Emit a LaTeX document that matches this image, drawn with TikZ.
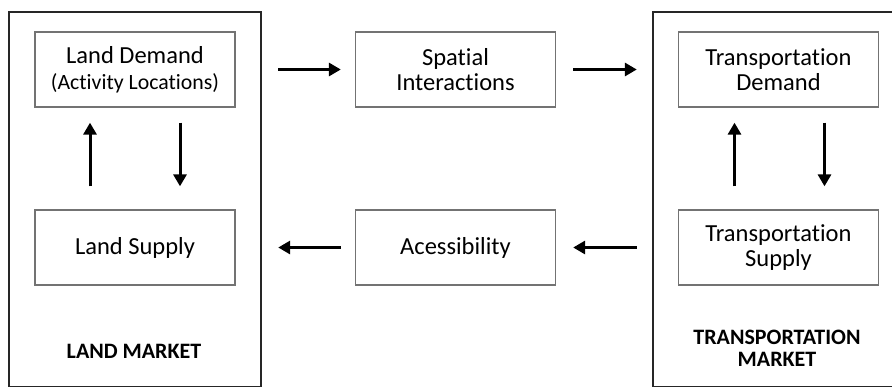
\documentclass[tikz,border=0pt]{standalone}
\usepackage{fontspec}
\setmainfont{Carlito}[Ligatures={NoCommon}]
\usetikzlibrary{
    arrows.meta,
    positioning
}
\tikzset{
  box/.style    = {draw=black!55, line width=1.3pt, minimum width=200pt,
                   minimum height=75pt, inner sep=0pt, align=center,
                   font=\fontsize{24.5}{25.5}\selectfont},
  market/.style = {draw=black!85, line width=2.4pt, minimum width=252pt,
                   minimum height=375pt},
  mlabel/.style = {align=center, inner sep=0pt,
                   font=\bfseries\fontsize{22}{22}\selectfont},
  arr/.style    = {-{Triangle[length=12pt,width=13pt]}, line width=3pt}
}
\newcommand{\smalltxt}{\fontsize{21.8}{25.5}\selectfont}

\begin{document}
\begin{tikzpicture}[x=1pt,y=-1pt]
\path[use as bounding box, clip] (0,0) rectangle (892,386);
\fill[white] (0,0) rectangle (892,386);
% the two markets
\node[market] (lm) at (135,199.5) {};
\node[market] (tm) at (779,199.5) {};
\node[mlabel] (lmlabel) at (134,351) {LAND MARKET};
\node[mlabel] (tmlabel) at (777,348) {TRANSPORTATION\\MARKET};
% boxes
\node[box] (ld) at (135,69.5) {Land Demand\\{\smalltxt(Activity Locations)}};
\node[box] (ls) at (135,247.5) {Land Supply};
\node[box] (si) at (455.5,69.5) {Spatial\\Interactions};
\node[box] (ac) at (455.5,247.5) {Acessibility};
\node[box] (td) at (778.5,69.5) {Transportation\\Demand};
\node[box] (ts) at (778.5,247.5) {Transportation\\Supply};
% inside the markets
\draw[arr, shorten <=23pt, shorten >=15pt] ([xshift=-45pt]ls.north) -- ([xshift=-45pt]ld.south);
\draw[arr, shorten <=15pt, shorten >=23pt] ([xshift=45pt]ld.south) -- ([xshift=45pt]ls.north);
\draw[arr, shorten <=23pt, shorten >=15pt] ([xshift=-44pt]ts.north) -- ([xshift=-44pt]td.south);
\draw[arr, shorten <=15pt, shorten >=23pt] ([xshift=46pt]td.south) -- ([xshift=46pt]ts.north);
% between the markets
\draw[arr, shorten <=16pt, shorten >=14pt] (lm.east |- si.west) -- (si.west);
\draw[arr, shorten <=17pt, shorten >=15pt] (si.east) -- (tm.west |- si.east);
\draw[arr, shorten <=15pt, shorten >=17pt] (tm.west |- ac.east) -- (ac.east);
\draw[arr, shorten <=14pt, shorten >=16pt] (ac.west) -- (lm.east |- ac.west);
\end{tikzpicture}
\end{document}
